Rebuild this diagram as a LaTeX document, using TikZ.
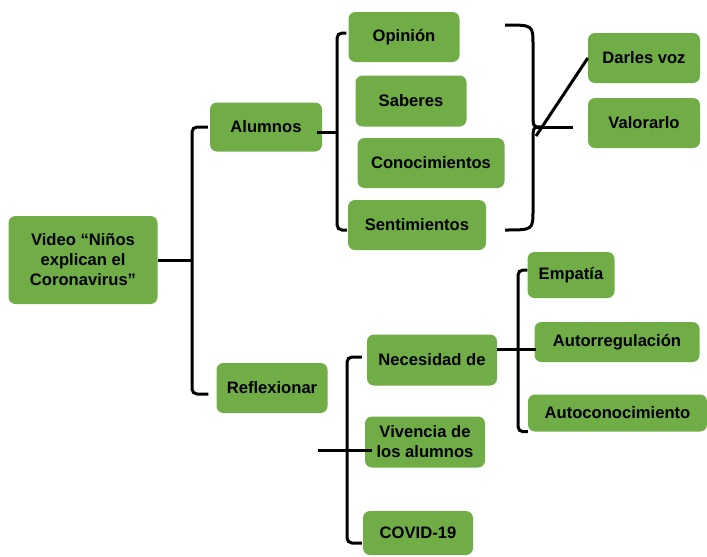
\documentclass[tikz,border=0pt]{standalone}
\usepackage{fontspec}
\setmainfont{Liberation Sans}
\definecolor{verde}{HTML}{70AD47}
\begin{document}
\begin{tikzpicture}[x=1pt,y=-1pt,
  caja/.style={fill=verde,rounded corners=7pt,inner sep=0pt,align=center,
    font=\fontsize{16.6}{20}\selectfont\bfseries},
  rama/.style={line width=3pt,rounded corners=5pt}]
  \useasboundingbox (0,0) rectangle (707,557);
  % cajas
  \node[caja,minimum width=149pt,minimum height=88pt] (video) at (83,260) {Video “Niños\\explican el\\Coronavirus”};
  \node[caja,minimum width=112pt,minimum height=49pt] (alumnos) at (266,127) {Alumnos};
  \node[caja,minimum width=111pt,minimum height=50pt] (reflexionar) at (272,388) {Reflexionar};
  \node[caja,minimum width=111pt,minimum height=50pt] (opinion) at (404,37) {Opinión};
  \node[caja,minimum width=111pt,minimum height=51pt] (saberes) at (411,101) {Saberes};
  \node[caja,minimum width=147pt,minimum height=50pt] (conocimientos) at (431,163) {Conocimientos};
  \node[caja,minimum width=138pt,minimum height=50pt] (sentimientos) at (417,225) {Sentimientos};
  \node[caja,minimum width=112pt,minimum height=50pt] (darles) at (644,58) {Darles voz};
  \node[caja,minimum width=112pt,minimum height=50pt] (valorarlo) at (644,123) {Valorarlo};
  \node[caja,minimum width=130pt,minimum height=51pt] (necesidad) at (432,360) {Necesidad de};
  \node[caja,minimum width=120pt,minimum height=51pt] (vivencia) at (425,442) {Vivencia de\\los alumnos};
  \node[caja,minimum width=110pt,minimum height=44pt] (covid) at (418,533) {COVID-19};
  \node[caja,minimum width=87pt,minimum height=46pt] (empatia) at (571,275) {Empatía};
  \node[caja,minimum width=165pt,minimum height=40pt] (autorreg) at (617,342) {Autorregulación};
  \node[caja,minimum width=179pt,minimum height=37pt] (autocon) at (617.5,413) {Autoconocimiento};
  % ejes de las llaves
  \coordinate (ejeP) at (192,260);
  \coordinate (ejeA) at (337,132);
  \coordinate (ejeR) at (347,450);
  \coordinate (libreR) at (318,450);
  \coordinate (ejeN) at (518,349);
  \coordinate (puntaB) at (536,127);
  % llave principal
  \draw[rama] (video.east) -- (ejeP);
  \draw[rama] ([xshift=-2pt]alumnos.west) -| (ejeP) |- ([shift={(-8pt,-6pt)}]reflexionar.west);
  % llave de alumnos
  \draw[rama] ([xshift=-5pt]alumnos.east |- ejeA) -- (ejeA);
  \draw[rama] ([shift={(-2pt,4pt)}]opinion.west) -| (ejeA) |- ([shift={(-1pt,-5pt)}]sentimientos.west);
  % llave derecha
  \draw[line width=3pt] (505,25) .. controls (533,25) .. (533,45) -- (533,112)
    .. controls (533,127) .. (541,127) .. controls (533,127) .. (533,142) -- (533,210)
    .. controls (533,230) .. (505,230);
  \draw[line width=3pt] ([yshift=-9pt]puntaB) -- (darles.west);
  \draw[line width=3pt] (puntaB) -- ([xshift=-15pt]valorarlo.west |- puntaB);
  % llave de reflexionar
  \draw[rama] ([xshift=-5pt]necesidad.west |- 0,357) -| (ejeR) |- ([shift={(-1pt,-10pt)}]covid.west);
  \draw[rama] (libreR) -- ([xshift=7pt]vivencia.west |- libreR);
  % llave de necesidad
  \draw[rama] (necesidad.east |- ejeN) -- ([xshift=2pt]autorreg.west |- ejeN);
  \draw[rama] ([yshift=5pt]empatia.west) -| (ejeN) |- (autocon.south west);
\end{tikzpicture}
\end{document}
